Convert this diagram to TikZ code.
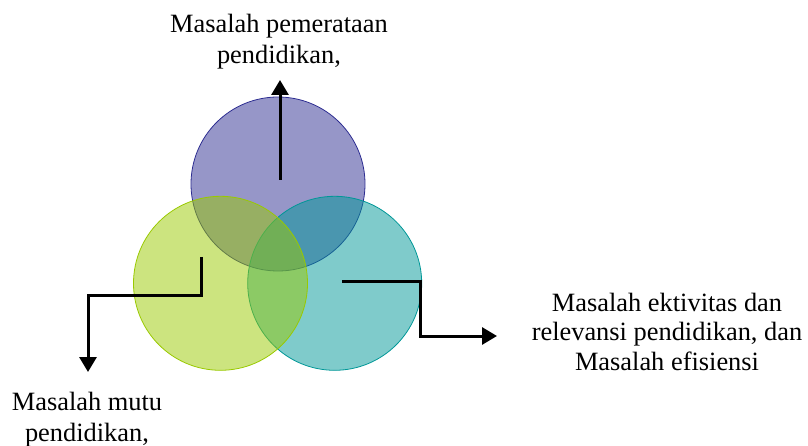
\documentclass[tikz,border=0pt]{standalone}
\usepackage{fontspec}
\setmainfont{Liberation Serif}
\usetikzlibrary{arrows.meta}
\definecolor{pbase}{RGB}{45,45,145}
\definecolor{gbase}{RGB}{153,201,0}
\definecolor{tbase}{RGB}{0,151,151}
\begin{document}
\begin{tikzpicture}[x=1pt,y=-1pt,
  blob/.style={circle,minimum size=174pt,inner sep=0pt,fill opacity=0.5,line width=0.8pt},
  lbl/.style={align=center,inner sep=0pt,anchor=base},
  conn/.style={line width=3pt,-{Triangle[width=17pt,length=15pt]}}]
\useasboundingbox (0,0) rectangle (808,446);
\node[blob,draw=pbase,fill=pbase] (p) at (278,184) {};
\node[blob,draw=tbase,fill=tbase] (t) at (334.7,283.3) {};
\node[blob,draw=gbase,fill=gbase] (g) at (220.5,283.3) {};
\node[lbl,font=\fontsize{26.4}{31}\selectfont] (ltop) at (279,64) {Masalah pemerataan\\pendidikan,};
\node[lbl,font=\fontsize{26.4}{31}\selectfont] (lleft) at (87,441) {Masalah mutu\\pendidikan,};
\node[lbl,font=\fontsize{26.4}{29.3}\selectfont] (lright) at (667,370) {Masalah ektivitas dan\\relevansi pendidikan, dan\\Masalah efisiensi};
\coordinate (s1) at (280,180);
\coordinate (e1) at (280,80);
\coordinate (s2) at (201,257);
\coordinate (e2) at (88,372);
\coordinate (s3) at (342,281);
\coordinate (e3) at (497,336);
\draw[conn] (s1) -- (e1);
\draw[conn] (s2) |- (88,295) -- (e2);
\draw[conn] (s3) -| (420,336) -- (e3);
\end{tikzpicture}
\end{document}
